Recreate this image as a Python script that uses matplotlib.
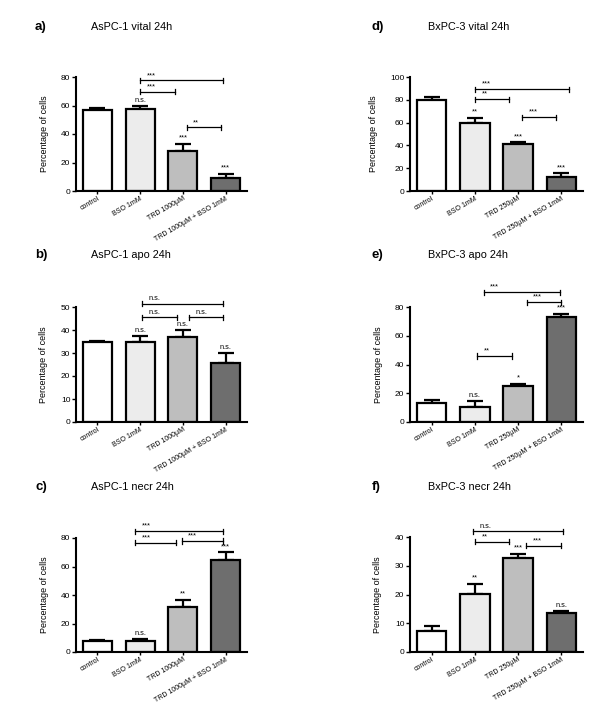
import numpy as np
import matplotlib.pyplot as plt

# bar groups
groups_aspc = ['control', 'BSO 1mM', 'TRD 1000µM', 'TRD 1000µM + BSO 1mM']
groups_bxpc = ['control', 'BSO 1mM', 'TRD 250µM', 'TRD 250µM + BSO 1mM']

# a) AsPC-1 vital
vital_aspc = [56.8, 57.7, 28.2, 8.9]
vital_aspc_err = [1.2, 1.7, 4.9, 3.1]
vital_aspc_sig = ['', 'n.s.', '***', '***']
vital_aspc_br = [(1.0, 2.93, 77.7, '***'), (1.0, 1.81, 69.5, '***'), (2.09, 2.9, 44.6, '**')]

# b) AsPC-1 apo
apo_aspc = [34.6, 34.8, 36.9, 25.8]
apo_aspc_err = [0.6, 2.5, 3.0, 4.1]
apo_aspc_sig = ['', 'n.s.', 'n.s.', 'n.s.']
apo_aspc_br = [(1.05, 2.95, 51.5, 'n.s.'), (1.05, 1.87, 45.6, 'n.s.'), (2.15, 2.95, 45.6, 'n.s.')]

# c) AsPC-1 necr
necr_aspc = [7.7, 7.7, 31.8, 64.6]
necr_aspc_err = [0.9, 1.2, 4.9, 5.4]
necr_aspc_sig = ['', 'n.s.', '**', '***']
necr_aspc_br = [(0.88, 2.93, 84.9, '***'), (0.88, 1.84, 76.7, '***'), (1.97, 2.93, 77.9, '***')]

# d) BxPC-3 vital
vital_bxpc = [79.4, 59.8, 41.0, 12.6]
vital_bxpc_err = [2.9, 4.1, 1.8, 2.9]
vital_bxpc_sig = ['', '**', '***', '***']
vital_bxpc_br = [(1.0, 3.17, 89.4, '***'), (1.0, 1.8, 80.6, '**'), (2.09, 2.88, 64.8, '***')]

# e) BxPC-3 apo
apo_bxpc = [13.5, 10.5, 25.2, 72.7]
apo_bxpc_err = [1.7, 4.0, 1.4, 2.6]
apo_bxpc_sig = ['', 'n.s.', '*', '***']
apo_bxpc_br = [(1.2, 2.96, 90.4, '***'), (2.2, 2.98, 83.4, '***'), (1.06, 1.86, 45.9, '**')]

# f) BxPC-3 necr
necr_bxpc = [7.3, 20.2, 32.7, 13.6]
necr_bxpc_err = [1.8, 3.5, 1.4, 0.7]
necr_bxpc_sig = ['', '**', '***', 'n.s.']
necr_bxpc_br = [(0.95, 3.04, 42.0, 'n.s.'), (1.0, 1.78, 38.3, '**'), (2.19, 2.98, 37.0, '***')]

bar_colors = ['#ffffff', '#ececec', '#bebebe', '#6e6e6e']

panels = [
    ('a)', 'AsPC-1 vital 24h', groups_aspc, vital_aspc, vital_aspc_err, vital_aspc_sig, vital_aspc_br, 80, 20),
    ('b)', 'AsPC-1 apo 24h', groups_aspc, apo_aspc, apo_aspc_err, apo_aspc_sig, apo_aspc_br, 50, 10),
    ('c)', 'AsPC-1 necr 24h', groups_aspc, necr_aspc, necr_aspc_err, necr_aspc_sig, necr_aspc_br, 80, 20),
    ('d)', 'BxPC-3 vital 24h', groups_bxpc, vital_bxpc, vital_bxpc_err, vital_bxpc_sig, vital_bxpc_br, 100, 20),
    ('e)', 'BxPC-3 apo 24h', groups_bxpc, apo_bxpc, apo_bxpc_err, apo_bxpc_sig, apo_bxpc_br, 80, 20),
    ('f)', 'BxPC-3 necr 24h', groups_bxpc, necr_bxpc, necr_bxpc_err, necr_bxpc_sig, necr_bxpc_br, 40, 10),
]

# axes rects in pixels: left, top, right, bottom (figure is 600x723)
rects = [
    (76, 77, 247, 191), (76, 307, 247, 422), (76, 538, 247, 652),
    (410, 77, 583, 191), (410, 307, 583, 422), (410, 537, 583, 652),
]
title_y = [27, 255, 487, 27, 255, 487]

W, H = 600, 723
fig = plt.figure(figsize=(6, 7.23), dpi=100)
plt.rcParams['font.family'] = ['Liberation Sans', 'DejaVu Sans']

for i, (lab, title, groups, vals, errs, sig, brackets, ymax, step) in enumerate(panels):
    l, t, r, b = rects[i]
    ax = fig.add_axes([l / W, 1 - b / H, (r - l) / W, (b - t) / H])
    x = np.arange(len(vals))
    ax.bar(x, vals, width=0.68, color=bar_colors, edgecolor='black', linewidth=1.6, zorder=2)
    ax.errorbar(x, vals, yerr=[np.zeros(len(vals)), errs], fmt='none', ecolor='black',
                elinewidth=1.6, capsize=5.8, capthick=1.6, zorder=1)
    ax.set_xlim(-0.5, 3.5)
    ax.set_ylim(0, ymax)
    ax.set_yticks(np.arange(0, ymax + 1, step))
    ax.spines['top'].set_visible(False)
    ax.spines['right'].set_visible(False)
    ax.spines['left'].set_linewidth(1.5)
    ax.spines['bottom'].set_linewidth(1.5)
    ax.tick_params(axis='y', labelsize=6, length=3, width=1, pad=1)
    ax.tick_params(axis='x', length=2, width=1, pad=1)
    ax.set_xticks(x)
    ax.set_xticklabels(groups, rotation=30, ha='right', rotation_mode='anchor', fontsize=5)
    ax.set_ylabel('Percentage of cells', fontsize=6.5, labelpad=9)

    # stars above the bars
    for xi, v, e, s in zip(x, vals, errs, sig):
        if s:
            ax.text(xi, v + e + ymax * 0.02, s, ha='center', va='bottom', fontsize=5.3, clip_on=False)

    # comparison brackets
    cap = ymax * 0.022
    for x1, x2, yb, s in brackets:
        ax.plot([x1, x2], [yb, yb], color='black', lw=0.9, clip_on=False)
        ax.plot([x1, x1], [yb - cap, yb + cap], color='black', lw=0.9, clip_on=False)
        ax.plot([x2, x2], [yb - cap, yb + cap], color='black', lw=0.9, clip_on=False)
        ax.text(x1 + 0.15, yb + ymax * 0.012, s, ha='left', va='bottom', fontsize=5.3, clip_on=False)

    # panel letter and title
    lx = 35 if i < 3 else 372
    tx = 91 if i < 3 else 428
    fig.text(lx / W, 1 - title_y[i] / H, lab, fontsize=9.5, fontweight='bold', va='center')
    fig.text(tx / W, 1 - title_y[i] / H, title, fontsize=7.8, va='center')

plt.savefig('out.png', dpi=100)
